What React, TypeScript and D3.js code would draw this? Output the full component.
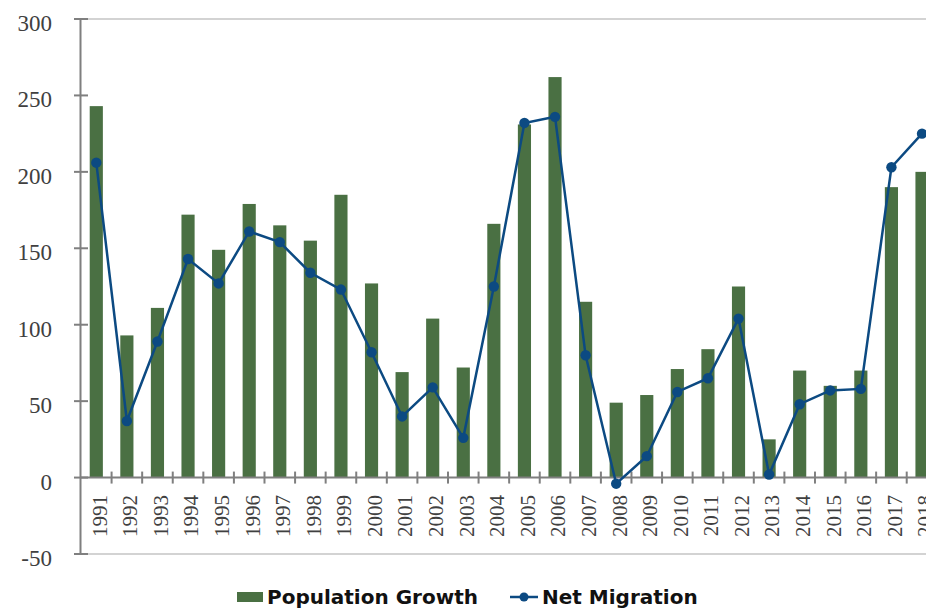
import React from "react";
import * as d3 from "d3";

const years: string[] = [
  "1991","1992","1993","1994","1995","1996","1997","1998","1999","2000",
  "2001","2002","2003","2004","2005","2006","2007","2008","2009","2010",
  "2011","2012","2013","2014","2015","2016","2017","2018",
];
const populationGrowth: number[] = [
  243, 93, 111, 172, 149, 179, 165, 155, 185, 127,
  69, 104, 72, 166, 231, 262, 115, 49, 54, 71,
  84, 125, 25, 70, 60, 70, 190, 200,
];
const netMigration: number[] = [
  206, 37, 89, 143, 127, 161, 154, 134, 123, 82,
  40, 59, 26, 125, 232, 236, 80, -4, 14, 56,
  65, 104, 2, 48, 57, 58, 203, 225,
];
const yTicks: number[] = [-50, 0, 50, 100, 150, 200, 250, 300];
const legendLabels: string[] = ["Population Growth", "Net Migration"];

const W = 926;
const H = 608;
const BAR = "#4a7043";
const LINE = "#0c4a82";
const AXIS = "#7f7f7f";
const TEXT = "#404040";

export default function App() {
  const x = d3
    .scaleBand<string>()
    .domain(years)
    .range([81, 937.3])
    .paddingInner(0.57)
    .paddingOuter(0.285);
  const y = d3.scaleLinear().domain([-50, 300]).range([554, 19]);
  const step = x.step();
  const cx = (yr: string) => (x(yr) as number) + x.bandwidth() / 2;

  const line = d3
    .line<number>()
    .x((_, i) => cx(years[i]))
    .y((d) => y(d));

  const boundaries = years.map((_, i) => 81 + (i + 1) * step);

  return (
    <svg
      width={W}
      height={H}
      style={{ position: "absolute", left: 0, top: 0, background: "#fff" }}
    >
      {/* top and bottom borders */}
      <line x1={81} x2={W} y1={y(300)} y2={y(300)} stroke="#c4c4c4" strokeWidth={1.5} />
      <line x1={81} x2={W} y1={y(-50)} y2={y(-50)} stroke="#c4c4c4" strokeWidth={1.5} />

      {/* bars */}
      {populationGrowth.map((v, i) => (
        <rect
          key={years[i]}
          x={x(years[i])}
          y={Math.min(y(v), y(0))}
          width={x.bandwidth()}
          height={Math.abs(y(v) - y(0))}
          fill={BAR}
        />
      ))}

      {/* zero axis */}
      <line x1={81} x2={W} y1={y(0)} y2={y(0)} stroke={AXIS} strokeWidth={2} />
      {boundaries.map((bx, i) => (
        <line key={i} x1={bx} x2={bx} y1={y(0) - 6} y2={y(0) + 6} stroke={AXIS} strokeWidth={2} />
      ))}

      {/* y axis */}
      <line x1={80.5} x2={80.5} y1={y(300)} y2={y(-50)} stroke={AXIS} strokeWidth={2} />
      {yTicks.map((t) => (
        <g key={t}>
          <line x1={74} x2={88} y1={y(t)} y2={y(t)} stroke={AXIS} strokeWidth={2} />
          <text
            x={52}
            y={y(t) + 12}
            textAnchor="end"
            fontFamily="'Liberation Serif', 'DejaVu Serif', serif"
            fontSize={23}
            fill={TEXT}
          >
            {t}
          </text>
        </g>
      ))}

      {/* x labels */}
      {years.map((yr) => (
        <text
          key={yr}
          transform={`translate(${cx(yr) + 3},495) rotate(-90)`}
          textAnchor="end"
          dy="0.35em"
          fontFamily="'Liberation Serif', 'DejaVu Serif', serif"
          fontSize={21}
          fill={TEXT}
        >
          {yr}
        </text>
      ))}

      {/* net migration line */}
      <path d={line(netMigration) || ""} fill="none" stroke={LINE} strokeWidth={2.5} />
      {netMigration.map((v, i) => (
        <circle key={years[i]} cx={cx(years[i])} cy={y(v)} r={5.2} fill={LINE} />
      ))}

      {/* legend */}
      <rect x={237} y={592} width={26} height={10} fill={BAR} />
      <text
        x={267}
        y={604}
        fontFamily="'DejaVu Sans', Verdana, sans-serif"
        fontWeight="bold"
        fontSize={20}
        fill="#111"
      >
        {legendLabels[0]}
      </text>
      <line x1={510} x2={538} y1={597} y2={597} stroke={LINE} strokeWidth={2.5} />
      <circle cx={524} cy={597} r={4.5} fill={LINE} />
      <text
        x={542}
        y={604}
        fontFamily="'DejaVu Sans', Verdana, sans-serif"
        fontWeight="bold"
        fontSize={20}
        fill="#111"
      >
        {legendLabels[1]}
      </text>
    </svg>
  );
}
